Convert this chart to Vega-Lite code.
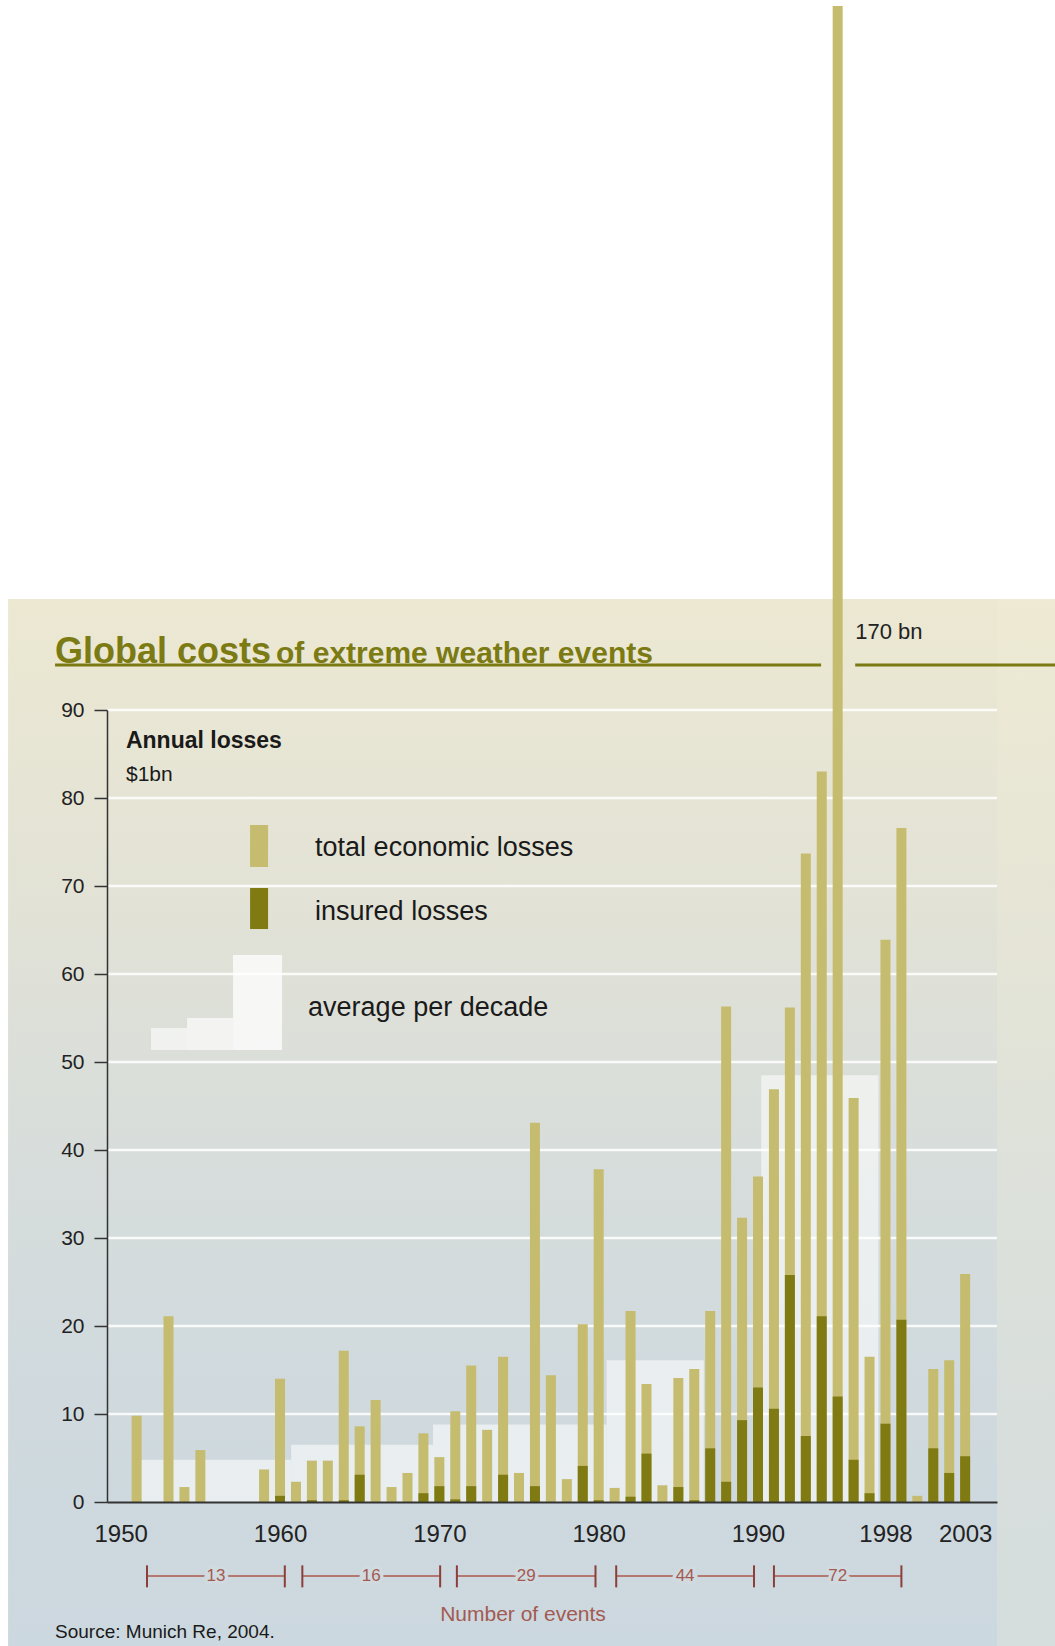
{
  "$schema": "https://vega.github.io/schema/vega-lite/v6.json",
  "width": 890,
  "height": 792,
  "autosize": {"type": "none"},
  "padding": {"left": 107, "top": 710, "right": 58, "bottom": 144},
  "background": "white",
  "config": {"view": {"stroke": null}, "font": "Liberation Sans"},
  "datasets": {
    "losses": [
      {"year": 1951, "total": 9.8, "insured": 0},
      {"year": 1953, "total": 21.1, "insured": 0},
      {"year": 1954, "total": 1.7, "insured": 0},
      {"year": 1955, "total": 5.9, "insured": 0},
      {"year": 1959, "total": 3.7, "insured": 0},
      {"year": 1960, "total": 14.0, "insured": 0.7},
      {"year": 1961, "total": 2.3, "insured": 0},
      {"year": 1962, "total": 4.7, "insured": 0.2},
      {"year": 1963, "total": 4.7, "insured": 0},
      {"year": 1964, "total": 17.2, "insured": 0.2},
      {"year": 1965, "total": 8.6, "insured": 3.1},
      {"year": 1966, "total": 11.6, "insured": 0},
      {"year": 1967, "total": 1.7, "insured": 0},
      {"year": 1968, "total": 3.3, "insured": 0},
      {"year": 1969, "total": 7.8, "insured": 1.0},
      {"year": 1970, "total": 5.1, "insured": 1.8},
      {"year": 1971, "total": 10.3, "insured": 0.3},
      {"year": 1972, "total": 15.5, "insured": 1.8},
      {"year": 1973, "total": 8.2, "insured": 0},
      {"year": 1974, "total": 16.5, "insured": 3.1},
      {"year": 1975, "total": 3.3, "insured": 0},
      {"year": 1976, "total": 43.1, "insured": 1.8},
      {"year": 1977, "total": 14.4, "insured": 0},
      {"year": 1978, "total": 2.6, "insured": 0},
      {"year": 1979, "total": 20.2, "insured": 4.1},
      {"year": 1980, "total": 37.8, "insured": 0.2},
      {"year": 1981, "total": 1.6, "insured": 0},
      {"year": 1982, "total": 21.7, "insured": 0.6},
      {"year": 1983, "total": 13.4, "insured": 5.5},
      {"year": 1984, "total": 1.9, "insured": 0},
      {"year": 1985, "total": 14.1, "insured": 1.7},
      {"year": 1986, "total": 15.1, "insured": 0.2},
      {"year": 1987, "total": 21.7, "insured": 6.1},
      {"year": 1988, "total": 56.3, "insured": 2.3},
      {"year": 1989, "total": 32.3, "insured": 9.3},
      {"year": 1990, "total": 37.0, "insured": 13.0},
      {"year": 1991, "total": 46.9, "insured": 10.6},
      {"year": 1992, "total": 56.2, "insured": 25.8},
      {"year": 1993, "total": 73.7, "insured": 7.5},
      {"year": 1994, "total": 83.0, "insured": 21.1},
      {"year": 1995, "total": 170, "insured": 12.0},
      {"year": 1996, "total": 45.9, "insured": 4.8},
      {"year": 1997, "total": 16.5, "insured": 1.0},
      {"year": 1998, "total": 63.9, "insured": 8.9},
      {"year": 1999, "total": 76.6, "insured": 20.7},
      {"year": 2000, "total": 0.7, "insured": 0},
      {"year": 2001, "total": 15.1, "insured": 6.1},
      {"year": 2002, "total": 16.1, "insured": 3.3},
      {"year": 2003, "total": 25.9, "insured": 5.2}
    ],
    "decadeAverages": [
      {"decade": "1950s", "start": 1951.2, "end": 1960.7, "avg": 4.8},
      {"decade": "1960s", "start": 1960.7, "end": 1969.6, "avg": 6.5},
      {"decade": "1970s", "start": 1969.6, "end": 1980.5, "avg": 8.8},
      {"decade": "1980s", "start": 1980.5, "end": 1986.6, "avg": 16.1},
      {"decade": "1990s", "start": 1990.2, "end": 1997.55, "avg": 48.5}
    ],
    "eventCounts": [
      {"decade": "1950s", "from": 1951.65, "to": 1960.3, "events": 13},
      {"decade": "1960s", "from": 1961.4, "to": 1970.05, "events": 16},
      {"decade": "1970s", "from": 1971.1, "to": 1979.8, "events": 29},
      {"decade": "1980s", "from": 1981.1, "to": 1989.75, "events": 44},
      {"decade": "1990s", "from": 1991.0, "to": 1999.0, "events": 72}
    ],
    "gridLevels": [
      {"level": 10}, {"level": 20}, {"level": 30}, {"level": 40}, {"level": 50},
      {"level": 60}, {"level": 70}, {"level": 80}, {"level": 90}
    ]
  },
  "layer": [
    {
      "data": {"values": [{}]},
      "mark": {
        "type": "rect",
        "fill": {
          "gradient": "linear", "x1": 0, "y1": 0, "x2": 0, "y2": 1,
          "stops": [
            {"offset": 0, "color": "#ece8d2"},
            {"offset": 0.29, "color": "#e2e2d6"},
            {"offset": 0.53, "color": "#d7dddb"},
            {"offset": 0.77, "color": "#cfd9de"},
            {"offset": 1, "color": "#ccd8df"}
          ]
        }
      },
      "encoding": {
        "x": {"datum": 1942.93, "type": "quantitative", "scale": {"domain": [1949.14, 2005.0], "nice": false, "zero": false, "padding": 0}},
        "x2": {"datum": 2010},
        "y": {"datum": 102.6, "type": "quantitative", "scale": {"domain": [0, 90], "nice": false, "zero": false}},
        "y2": {"datum": -17}
      }
    },
    {
      "data": {"values": [{}]},
      "mark": {"type": "rect", "color": "#f2eed8", "opacity": 0.25},
      "encoding": {
        "x": {"datum": 2005.0, "type": "quantitative"},
        "x2": {"datum": 2010},
        "y": {"datum": 102.6, "type": "quantitative"},
        "y2": {"datum": -17}
      }
    },
    {
      "data": {"name": "gridLevels"},
      "mark": {"type": "rule", "color": "white", "strokeWidth": 2.5, "opacity": 0.85},
      "encoding": {
        "y": {"field": "level", "type": "quantitative"}
      }
    },
    {
      "data": {"name": "decadeAverages"},
      "mark": {"type": "rect", "color": "white", "opacity": 0.55},
      "encoding": {
        "x": {"field": "start", "type": "quantitative"},
        "x2": {"field": "end"},
        "y": {"field": "avg", "type": "quantitative"},
        "y2": {"datum": 0}
      }
    },
    {
      "data": {"name": "losses"},
      "mark": {"type": "bar", "orient": "vertical", "width": 10, "color": "#c5bc6f"},
      "encoding": {
        "x": {
          "field": "year", "type": "quantitative",
          "scale": {"domain": [1949.14, 2005.0], "nice": false, "zero": false, "padding": 0},
          "axis": {
            "title": null, "grid": false, "zindex": 1,
            "values": [1950, 1960, 1970, 1980, 1990, 1998, 2003],
            "format": "d", "ticks": false,
            "labelFontSize": 24, "labelPadding": 20, "labelColor": "#222222",
            "labelFlush": false, "labelOverlap": false, "labelBound": false,
            "domainColor": "#333333", "domainWidth": 2
          }
        },
        "y": {
          "field": "total", "type": "quantitative",
          "scale": {"domain": [0, 90], "nice": false, "zero": false},
          "axis": {
            "title": null, "grid": false, "zindex": 1,
            "values": [0, 10, 20, 30, 40, 50, 60, 70, 80, 90],
            "tickSize": 13, "tickWidth": 1.5, "tickColor": "#333333",
            "labelFontSize": 21, "labelPadding": 10, "labelColor": "#222222",
            "domainColor": "#333333", "domainWidth": 1.5
          }
        }
      }
    },
    {
      "data": {"name": "losses"},
      "mark": {"type": "bar", "orient": "vertical", "width": 10, "color": "#807a13"},
      "encoding": {
        "x": {"field": "year", "type": "quantitative"},
        "y": {"field": "insured", "type": "quantitative"}
      }
    },
    {
      "data": {"values": [{}]},
      "mark": {"type": "rect", "color": "#c5bc6f"},
      "encoding": {
        "x": {"datum": 1958.12, "type": "quantitative"},
        "x2": {"datum": 1959.25},
        "y": {"datum": 76.93, "type": "quantitative"},
        "y2": {"datum": 72.16}
      }
    },
    {
      "data": {"values": [{}]},
      "mark": {"type": "rect", "color": "#807a13"},
      "encoding": {
        "x": {"datum": 1958.12, "type": "quantitative"},
        "x2": {"datum": 1959.25},
        "y": {"datum": 69.77, "type": "quantitative"},
        "y2": {"datum": 65.11}
      }
    },
    {
      "data": {"values": [{}]},
      "mark": {"type": "rect", "color": "white", "opacity": 0.6},
      "encoding": {
        "x": {"datum": 1951.9, "type": "quantitative"},
        "x2": {"datum": 1954.16},
        "y": {"datum": 53.86, "type": "quantitative"},
        "y2": {"datum": 51.36}
      }
    },
    {
      "data": {"values": [{}]},
      "mark": {"type": "rect", "color": "white", "opacity": 0.65},
      "encoding": {
        "x": {"datum": 1954.16, "type": "quantitative"},
        "x2": {"datum": 1957.05},
        "y": {"datum": 55.0, "type": "quantitative"},
        "y2": {"datum": 51.36}
      }
    },
    {
      "data": {"values": [{}]},
      "mark": {"type": "rect", "color": "white", "opacity": 0.75},
      "encoding": {
        "x": {"datum": 1957.05, "type": "quantitative"},
        "x2": {"datum": 1960.13},
        "y": {"datum": 62.16, "type": "quantitative"},
        "y2": {"datum": 51.36}
      }
    },
    {
      "data": {"values": [{}]},
      "mark": {"type": "text", "text": "Annual losses", "align": "left", "baseline": "middle", "fontSize": 23, "fontWeight": "bold", "color": "#1a1a1a"},
      "encoding": {
        "x": {"datum": 1950.33, "type": "quantitative"},
        "y": {"datum": 86.48, "type": "quantitative"}
      }
    },
    {
      "data": {"values": [{}]},
      "mark": {"type": "text", "text": "$1bn", "align": "left", "baseline": "middle", "fontSize": 21, "color": "#1a1a1a"},
      "encoding": {
        "x": {"datum": 1950.33, "type": "quantitative"},
        "y": {"datum": 82.61, "type": "quantitative"}
      }
    },
    {
      "data": {"values": [{}]},
      "mark": {"type": "text", "text": "total economic losses", "align": "left", "baseline": "middle", "fontSize": 27, "color": "#1a1a1a"},
      "encoding": {
        "x": {"datum": 1962.2, "type": "quantitative"},
        "y": {"datum": 74.32, "type": "quantitative"}
      }
    },
    {
      "data": {"values": [{}]},
      "mark": {"type": "text", "text": "insured losses", "align": "left", "baseline": "middle", "fontSize": 27, "color": "#1a1a1a"},
      "encoding": {
        "x": {"datum": 1962.2, "type": "quantitative"},
        "y": {"datum": 67.05, "type": "quantitative"}
      }
    },
    {
      "data": {"values": [{}]},
      "mark": {"type": "text", "text": "average per decade", "align": "left", "baseline": "middle", "fontSize": 27, "color": "#1a1a1a"},
      "encoding": {
        "x": {"datum": 1961.76, "type": "quantitative"},
        "y": {"datum": 56.14, "type": "quantitative"}
      }
    },
    {
      "data": {"values": [{}]},
      "mark": {"type": "text", "text": "Global costs", "align": "left", "baseline": "alphabetic", "fontSize": 36, "fontWeight": "bold", "color": "#7b7a13"},
      "encoding": {
        "x": {"datum": 1945.88, "type": "quantitative"},
        "y": {"datum": 95.34, "type": "quantitative"}
      }
    },
    {
      "data": {"values": [{}]},
      "mark": {"type": "text", "text": "of extreme weather events", "align": "left", "baseline": "alphabetic", "fontSize": 30, "fontWeight": "bold", "color": "#7b7a13"},
      "encoding": {
        "x": {"datum": 1959.75, "type": "quantitative"},
        "y": {"datum": 95.34, "type": "quantitative"}
      }
    },
    {
      "data": {"values": [{}]},
      "mark": {"type": "rule", "color": "#7b7a13", "strokeWidth": 3},
      "encoding": {
        "x": {"datum": 1945.88, "type": "quantitative"},
        "x2": {"datum": 1993.96},
        "y": {"datum": 95.11, "type": "quantitative"}
      }
    },
    {
      "data": {"values": [{}]},
      "mark": {"type": "rule", "color": "#7b7a13", "strokeWidth": 3},
      "encoding": {
        "x": {"datum": 1996.1, "type": "quantitative"},
        "x2": {"datum": 2009.5},
        "y": {"datum": 95.11, "type": "quantitative"}
      }
    },
    {
      "data": {"values": [{}]},
      "mark": {"type": "text", "text": "170 bn", "align": "left", "baseline": "middle", "fontSize": 22, "color": "#222222"},
      "encoding": {
        "x": {"datum": 1996.1, "type": "quantitative"},
        "y": {"datum": 98.86, "type": "quantitative"}
      }
    },
    {
      "data": {"name": "eventCounts"},
      "mark": {"type": "rule", "color": "#b3786f", "strokeWidth": 2},
      "encoding": {
        "x": {"field": "from", "type": "quantitative"},
        "x2": {"field": "to"},
        "y": {"datum": -8.41, "type": "quantitative"}
      }
    },
    {
      "data": {"name": "eventCounts"},
      "mark": {"type": "rule", "color": "#8b3e3a", "strokeWidth": 2},
      "encoding": {
        "x": {"field": "from", "type": "quantitative"},
        "y": {"datum": -7.2, "type": "quantitative"},
        "y2": {"datum": -9.7}
      }
    },
    {
      "data": {"name": "eventCounts"},
      "mark": {"type": "rule", "color": "#8b3e3a", "strokeWidth": 2},
      "encoding": {
        "x": {"field": "to", "type": "quantitative"},
        "y": {"datum": -7.2, "type": "quantitative"},
        "y2": {"datum": -9.7}
      }
    },
    {
      "data": {"name": "eventCounts"},
      "transform": [{"fold": ["from", "to"], "as": ["side", "pos"]}],
      "mark": {"type": "text", "align": "center", "baseline": "middle", "fontSize": 17, "color": "#d0dadf", "stroke": "#d0dadf", "strokeWidth": 7},
      "encoding": {
        "x": {"aggregate": "mean", "field": "pos", "type": "quantitative"},
        "y": {"datum": -8.41, "type": "quantitative"},
        "text": {"field": "events", "type": "quantitative"}
      }
    },
    {
      "data": {"name": "eventCounts"},
      "transform": [{"fold": ["from", "to"], "as": ["side", "pos"]}],
      "mark": {"type": "text", "align": "center", "baseline": "middle", "fontSize": 17, "color": "#a35a52"},
      "encoding": {
        "x": {"aggregate": "mean", "field": "pos", "type": "quantitative"},
        "y": {"datum": -8.41, "type": "quantitative"},
        "text": {"field": "events", "type": "quantitative"}
      }
    },
    {
      "data": {"values": [{}]},
      "mark": {"type": "text", "text": "Number of events", "align": "center", "baseline": "middle", "fontSize": 21, "color": "#a35a52"},
      "encoding": {
        "x": {"datum": 1975.25, "type": "quantitative"},
        "y": {"datum": -12.84, "type": "quantitative"}
      }
    },
    {
      "data": {"values": [{}]},
      "mark": {"type": "text", "text": "Source: Munich Re, 2004.", "align": "left", "baseline": "middle", "fontSize": 19, "color": "#1a1a1a"},
      "encoding": {
        "x": {"datum": 1945.88, "type": "quantitative"},
        "y": {"datum": -14.77, "type": "quantitative"}
      }
    }
  ]
}
